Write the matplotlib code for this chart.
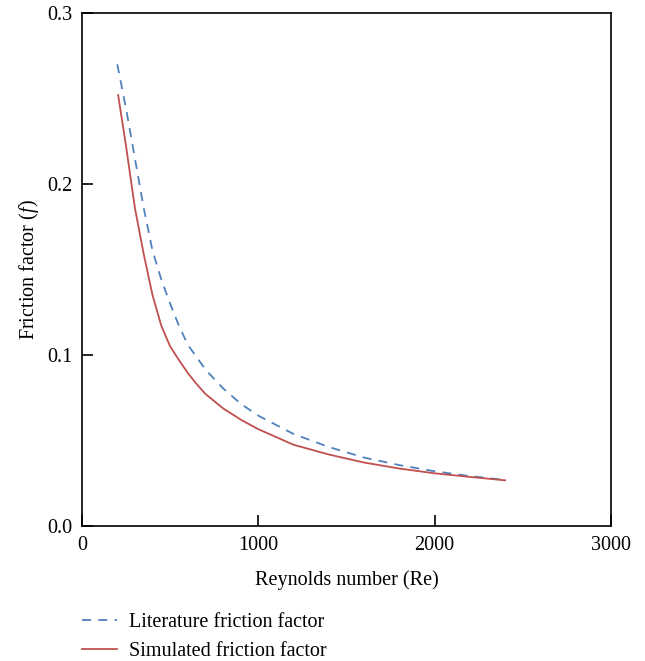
import matplotlib
matplotlib.use('Agg')
import matplotlib.pyplot as plt

plt.rcParams['font.family'] = ['Liberation Serif', 'DejaVu Serif']
plt.rcParams['mathtext.fontset'] = 'custom'
plt.rcParams['mathtext.it'] = 'Liberation Serif:italic'
plt.rcParams['mathtext.rm'] = 'Liberation Serif'

# data
re_lit = [200, 250, 300, 350, 400, 450, 500, 550, 600, 700, 800, 900, 1000,
          1200, 1400, 1600, 1800, 2000, 2200, 2400]
f_lit = [0.270, 0.244, 0.215, 0.186, 0.161, 0.144, 0.130, 0.117, 0.106,
         0.0915, 0.0805, 0.0715, 0.0645, 0.0538, 0.0462, 0.0400, 0.0356,
         0.0320, 0.0292, 0.0269]

re_sim = [205, 250, 300, 350, 400, 450, 500, 550, 600, 650, 700, 800, 900,
          1000, 1200, 1400, 1600, 1800, 2000, 2200, 2400]
f_sim = [0.252, 0.222, 0.186, 0.159, 0.135, 0.117, 0.105, 0.097, 0.0895,
         0.0830, 0.0772, 0.0688, 0.0622, 0.0566, 0.0475, 0.0418, 0.0371,
         0.0336, 0.0308, 0.0287, 0.0267]

x_ticks = [0, 1000, 2000, 3000]
y_ticks = [0.0, 0.1, 0.2, 0.3]

fig = plt.figure(figsize=(6.45, 6.61), dpi=100)
ax = fig.add_axes([82 / 645, 1 - 526 / 661, 529 / 645, 513 / 661])

ax.plot(re_lit, f_lit, color='#4F81BD', linestyle=(0, (5, 4)), linewidth=1.3,
        label='Literature friction factor')
ax.plot(re_sim, f_sim, color='#C0504D', linewidth=1.3,
        label='Simulated friction factor')

ax.set_xlim(0, 3000)
ax.set_ylim(0, 0.3)
ax.set_xticks(x_ticks)
ax.set_yticks(y_ticks)
ax.set_yticklabels([f'{v:.1f}' for v in y_ticks])
ax.tick_params(direction='in', length=8, width=1.2, labelsize=14.5, pad=7)
for s in ax.spines.values():
    s.set_linewidth(1.2)

ax.set_xlabel('Reynolds number (Re)', fontsize=14.5, labelpad=11)
ax.set_ylabel('Friction factor ($f$)', fontsize=14.5, labelpad=4)

fig.legend(loc='upper left', bbox_to_anchor=(82 / 645, 1 - 613 / 661),
           frameon=False, fontsize=14.5, handlelength=1.75, handletextpad=0.6,
           labelspacing=0.5, borderaxespad=0, borderpad=0)

fig.savefig('out.png', dpi=100)
